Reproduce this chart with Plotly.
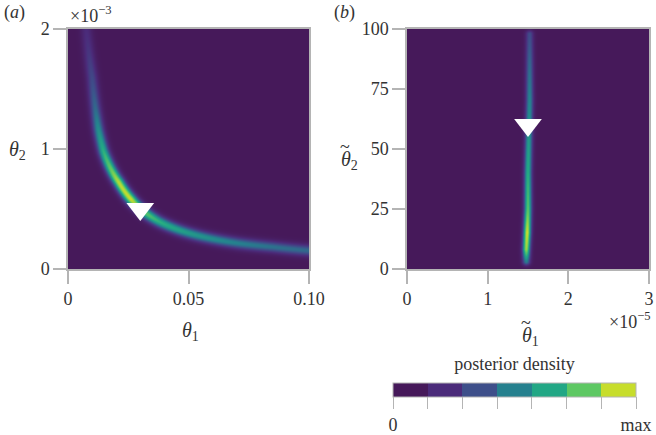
import numpy as np
import plotly.graph_objects as go

# ridge of the posterior in panel (a)
ridge_a_theta1 = [0.0072, 0.0085, 0.0098, 0.0112, 0.0125, 0.0146, 0.018, 0.021, 0.026, 0.030, 0.038, 0.055, 0.071, 0.085, 0.100]
ridge_a_theta2 = [2.05e-3, 1.80e-3, 1.60e-3, 1.34e-3, 1.16e-3, 0.98e-3, 0.82e-3, 0.72e-3, 0.58e-3, 0.50e-3, 0.39e-3, 0.27e-3, 0.21e-3, 0.18e-3, 0.15e-3]
ridge_a_dens = [0.15, 0.22, 0.3, 0.42, 0.56, 0.7, 0.85, 0.97, 1.0, 0.85, 0.7, 0.58, 0.5, 0.45, 0.42]

# ridge of the posterior in panel (b)
ridge_b_theta2 = [3, 8, 15, 25, 40, 55, 70, 85, 98]
ridge_b_theta1 = [1.48e-5, 1.48e-5, 1.49e-5, 1.50e-5, 1.50e-5, 1.51e-5, 1.52e-5, 1.52e-5, 1.52e-5]
ridge_b_dens = [0.5, 0.92, 1.0, 0.8, 0.68, 0.6, 0.52, 0.42, 0.32]

true_a = (0.03, 5e-4)
true_b = (1.5e-5, 60)

bins = ['#46195a', '#4b2b7a', '#3e4f8a', '#25808e', '#22a785', '#5ec863', '#c7dd2c']
cb_ticks = ['0', '', '', '', '', '', '', 'max']

FONT = 'Liberation Serif'
GRAY = '#b4b4b4'
TXT = '#333'


def density(xr, yr, rx, ry, dens, nx, ny, sig, logx=False):
    # densify the ridge, then gaussian falloff in pixel distance
    rx = np.array(rx); ry = np.array(ry); dens = np.array(dens)
    t = np.linspace(0, len(rx) - 1, 600)
    i = np.arange(len(rx))
    if logx:
        px = np.exp(np.interp(t, i, np.log(rx)))
        py = np.exp(np.interp(t, i, np.log(ry)))
    else:
        px = np.interp(t, i, rx)
        py = np.interp(t, i, ry)
    pd = np.interp(t, i, dens)
    gx = np.linspace(xr[0], xr[1], nx)
    gy = np.linspace(yr[0], yr[1], ny)
    X, Y = np.meshgrid(gx, gy)
    u = X.ravel()[:, None] / xr[1] * nx
    v = Y.ravel()[:, None] / yr[1] * ny
    pu = px[None, :] / xr[1] * nx
    pv = py[None, :] / yr[1] * ny
    d2 = (u - pu) ** 2 + (v - pv) ** 2
    k = d2.argmin(axis=1)
    z = pd[k] * np.exp(-d2[np.arange(len(k)), k] / (2 * sig ** 2))
    return gx, gy, z.reshape(ny, nx)


cs = [[i / 6, c] for i, c in enumerate(bins)]

gxa, gya, za = density((0, 0.1), (0, 2e-3), ridge_a_theta1, ridge_a_theta2, ridge_a_dens, 241, 240, 4.0, logx=True)
gxb, gyb, zb = density((0, 3e-5), (0, 100), ridge_b_theta1, ridge_b_theta2, ridge_b_dens, 242, 240, 2.8)

fig = go.Figure()
fig.add_trace(go.Heatmap(x=gxa, y=gya, z=za, zmin=0, zmax=1, colorscale=cs, showscale=False,
                         hoverinfo='skip', xaxis='x', yaxis='y'))
fig.add_trace(go.Heatmap(x=gxb, y=gyb, z=zb, zmin=0, zmax=1, colorscale=cs, showscale=False,
                         hoverinfo='skip', xaxis='x2', yaxis='y2'))
fig.add_trace(go.Scatter(x=[true_a[0]], y=[true_a[1]], mode='markers', xaxis='x', yaxis='y',
                         marker=dict(symbol='triangle-down', size=24, color='white'), showlegend=False))
fig.add_trace(go.Scatter(x=[true_b[0]], y=[true_b[1]], mode='markers', xaxis='x2', yaxis='y2',
                         marker=dict(symbol='triangle-down', size=24, color='white'), showlegend=False))

# discrete colour bar
dcs = []
for i, c in enumerate(bins):
    dcs += [[i / 7, c], [(i + 1) / 7, c]]
fig.add_trace(go.Scatter(x=[None], y=[None], mode='markers', xaxis='x2', yaxis='y2', showlegend=False,
                         marker=dict(color=[0], cmin=0, cmax=7, colorscale=dcs, showscale=True,
                                     colorbar=dict(orientation='h', x=514.5 / 656, xanchor='center',
                                                   y=(435 - 363) / 435, yanchor='top',
                                                   len=243 / 656, lenmode='fraction', thickness=14,
                                                   xpad=0, ypad=0, outlinecolor=GRAY, outlinewidth=1,
                                                   tickmode='array', tickvals=list(range(8)), ticktext=cb_ticks,
                                                   ticks='outside', ticklen=12, tickcolor=GRAY,
                                                   tickfont=dict(family=FONT, size=18, color=TXT),
                                                   title=dict(text='posterior density', side='top',
                                                              font=dict(family=FONT, size=18, color=TXT))))))

ax = dict(showgrid=False, zeroline=False, showline=True, linecolor=GRAY, linewidth=1.5, mirror=True,
          ticks='outside', ticklen=13, tickcolor=GRAY, tickwidth=1.5,
          tickfont=dict(family=FONT, size=18, color=TXT))

fig.update_layout(
    width=656, height=435, margin=dict(l=0, r=0, t=0, b=0, autoexpand=False),
    paper_bgcolor='white', plot_bgcolor='white', showlegend=False,
    xaxis=dict(ax, domain=[68 / 656, 309 / 656], range=[0, 0.1], tickvals=[0, 0.05, 0.1],
               ticktext=['0', '0.05', '0.10'], anchor='y'),
    yaxis=dict(ax, domain=[166 / 435, 406 / 435], range=[0, 2e-3], tickvals=[0, 1e-3, 2e-3],
               ticktext=['0', '1', '2'], anchor='x'),
    xaxis2=dict(ax, domain=[407 / 656, 649 / 656], range=[0, 3e-5], tickvals=[0, 1e-5, 2e-5, 3e-5],
                ticktext=['0', '1', '2', '3'], anchor='y2'),
    yaxis2=dict(ax, domain=[166 / 435, 406 / 435], range=[0, 100], tickvals=[0, 25, 50, 75, 100],
                ticktext=['0', '25', '50', '75', '100'], anchor='x2'),
)

notes = [
    ('(<i>a</i>)', 14, 12, 18),
    ('(<i>b</i>)', 344, 12, 18),
    ('×10<sup>−3</sup>', 91, 14, 18),
    ('×10<sup>−5</sup>', 630, 320, 18),
    ('<i>θ</i><sub>2</sub>', 17, 150, 20),
    ('<i>θ</i><sub>1</sub>', 190, 331, 20),
    ('<i>θ</i><sub>2</sub>', 349, 160, 20),
    ('<i>θ</i><sub>1</sub>', 530, 336, 20),
    ('~', 345, 147, 18),
    ('~', 526, 323, 18),
]
for text, px, py, sz in notes:
    fig.add_annotation(text=text, x=px / 656, y=1 - py / 435, xref='paper', yref='paper',
                       showarrow=False, xanchor='center', yanchor='middle',
                       font=dict(family=FONT, size=sz, color=TXT))

fig.write_html("out.html", config={'displayModeBar': False},
               post_script="document.body.style.margin='0';")
